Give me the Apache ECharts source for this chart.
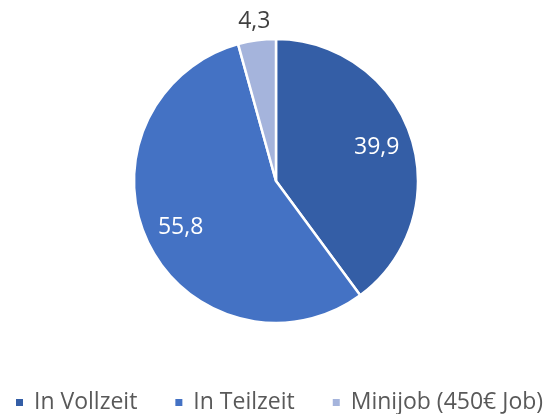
<!DOCTYPE html>
<html>
<head>
<meta charset="utf-8">
<script src="https://cdn.jsdelivr.net/npm/echarts@6/dist/echarts.min.js"></script>
<style>
html, body { margin: 0; padding: 0; background: #fff; }
#chart { width: 556px; height: 414px; }
</style>
</head>
<body>
<div id="chart"></div>
<script>
var categories = ['In Vollzeit', 'In Teilzeit', 'Minijob (450€ Job)'];
var values = [39.9, 55.8, 4.3];
var colors = ['#345ea6', '#4472c4', '#a5b4dc'];
// which labels sit inside the slice, which outside
var labelInside = [true, true, false];

var chart = echarts.init(document.getElementById('chart'));

function fmt(v) {
    return String(v).replace('.', ',');
}

var mainData = [];
var innerLabelData = [];
var outerLabelData = [];
for (var i = 0; i < categories.length; i++) {
    mainData.push({ name: categories[i], value: values[i], itemStyle: { color: colors[i] } });
    innerLabelData.push({ name: categories[i], value: values[i], label: { show: labelInside[i] } });
    outerLabelData.push({ name: categories[i], value: values[i], label: { show: !labelInside[i] } });
}

var center = [276, 181];
var labelFont = 'Open Sans';

var option = {
    animation: false,
    legend: {
        bottom: 0,
        left: 14,
        width: 600,
        padding: 0,
        itemWidth: 9,
        itemHeight: 9,
        itemGap: 36,
        icon: 'rect',
        data: categories,
        selectedMode: false,
        textStyle: { color: '#595959', fontSize: 23, fontFamily: labelFont, padding: [0, 0, 0, 5] }
    },
    series: [
        {
            name: 'main',
            type: 'pie',
            radius: [0, 142],
            center: center,
            startAngle: 90,
            clockwise: true,
            label: { show: false },
            labelLine: { show: false },
            itemStyle: { borderColor: '#fff', borderWidth: 2.5 },
            data: mainData
        },
        {
            name: 'labelsIn',
            type: 'pie',
            radius: [82, 124],
            center: center,
            startAngle: 90,
            silent: true,
            legendHoverLink: false,
            itemStyle: { color: 'rgba(0,0,0,0)' },
            label: {
                position: 'inside',
                color: '#fff',
                fontSize: 23,
                fontFamily: labelFont,
                formatter: function (p) { return fmt(p.value); }
            },
            labelLine: { show: false },
            data: innerLabelData
        },
        {
            name: 'labelsOut',
            type: 'pie',
            radius: [146, 170],
            center: center,
            startAngle: 90,
            silent: true,
            legendHoverLink: false,
            itemStyle: { color: 'rgba(0,0,0,0)' },
            label: {
                position: 'inside',
                color: '#404040',
                fontSize: 23,
                fontFamily: labelFont,
                formatter: function (p) { return fmt(p.value); }
            },
            labelLine: { show: false },
            data: outerLabelData
        }
    ]
};

chart.setOption(option);
</script>
</body>
</html>
